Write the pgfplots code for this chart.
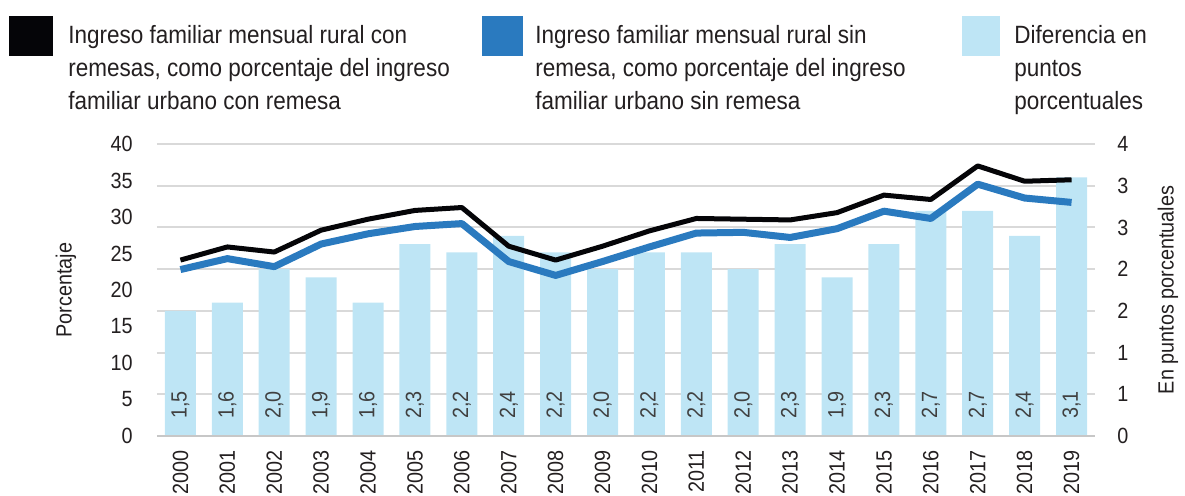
\documentclass[border=0pt]{standalone}
\usepackage{fontspec}
\setmainfont{Liberation Sans}[FakeStretch=0.9]
\usepackage{pgfplots}
\usepackage{pgfplotstable}
\pgfplotsset{compat=1.18}

\definecolor{lineblack}{HTML}{050508}
\definecolor{lineblue}{HTML}{2A7ABF}
\definecolor{barblue}{HTML}{BEE5F5}
\definecolor{gridgray}{HTML}{D9D9D9}
\definecolor{txt}{HTML}{231F20}

% x: position, d: difference (pp), con / sin: rural as % of urban income
\pgfplotstableread{
x  year d   con  sin
0  2000 1.5 24.1 22.8
1  2001 1.6 25.9 24.3
2  2002 2.0 25.2 23.2
3  2003 1.9 28.2 26.3
4  2004 1.6 29.7 27.7
5  2005 2.3 30.9 28.7
6  2006 2.2 31.3 29.1
7  2007 2.4 26.0 23.9
8  2008 2.2 24.1 22.0
9  2009 2.0 26.0 23.9
10 2010 2.2 28.1 25.9
11 2011 2.2 29.8 27.8
12 2012 2.0 29.7 27.9
13 2013 2.3 29.6 27.2
14 2014 1.9 30.6 28.4
15 2015 2.3 33.0 30.8
16 2016 2.7 32.4 29.8
17 2017 2.7 37.0 34.5
18 2018 2.4 34.9 32.6
19 2019 3.1 35.1 32.0
}\data

\begin{document}
\begin{tikzpicture}[font=\fontsize{11}{13}\selectfont, text=txt]
\pgfplotsset{
  base/.style={
    scale only axis, width=469pt, height=146pt,
    xmin=-0.5, xmax=19.5, ymin=0,
    major tick length=0pt,
    axis line style={draw=none},
    tick label style={font=\fontsize{11}{13}\selectfont, text=txt, inner sep=0pt},
    /pgf/number format/assume math mode=true,
    clip=false,
  },
}

% bars, right axis, grid, years
\begin{axis}[base,
  ymax=3.5,
  ytick={0,0.5,...,3.5},
  yticklabels={0,1,1,2,2,3,3,4},
  ytick pos=right, yticklabel pos=right,
  yticklabel style={anchor=west},
  yticklabel shift=11pt,
  ymajorgrids, grid style={gridgray, line width=1pt},
  xtick={0,...,19},
  xticklabels={2000,2001,2002,2003,2004,2005,2006,2007,2008,2009,
               2010,2011,2012,2013,2014,2015,2016,2017,2018,2019},
  xticklabel style={rotate=90, anchor=east},
  xticklabel shift=7pt,
]
\addplot[ybar, bar width=15.5pt, fill=barblue, draw=none] table[x=x, y=d] {\data};
\addplot[draw=none, mark=none,
  point meta=\thisrow{d},
  nodes near coords={\pgfmathprintnumber[fixed, fixed zerofill, precision=1, use comma]{\pgfplotspointmeta}},
  nodes near coords style={yshift=8.5pt, rotate=90, anchor=west, inner sep=0pt,
    font=\fontsize{11}{13}\selectfont, text=black!75},
] table[x=x, y expr=0] {\data};
\draw[black!22, line width=1.3pt] (rel axis cs:0,0) -- (rel axis cs:1,0);
\end{axis}

% lines, left axis
\begin{axis}[base,
  ymax=40,
  ytick={0,5,...,40},
  ytick pos=left, yticklabel pos=left,
  yticklabel style={anchor=east},
  yticklabel shift=12pt,
  xtick=\empty,
]
\addplot[lineblue, line width=3.5pt, line join=round] table[x=x, y=sin] {\data};
\addplot[lineblack, line width=2.5pt, line join=round] table[x=x, y=con] {\data};
\end{axis}

% axis titles
\node[rotate=90] at (-45.5pt,73pt) {Porcentaje};
\node[rotate=90] at (505.5pt,73pt) {En puntos porcentuales};

% legend
\begin{scope}[every node/.style={anchor=north west, inner sep=0pt, align=left,
    font=\fontsize{12.5}{16.5}\selectfont}]
\fill[lineblack] (-74pt,190pt) rectangle (-52pt,210pt);
\node at (-44.5pt,205.5pt) {Ingreso familiar mensual rural con\\remesas, como porcentaje del ingreso\\familiar urbano con remesa};
\fill[lineblue] (162.5pt,190pt) rectangle (183pt,210pt);
\node at (189pt,205.5pt) {Ingreso familiar mensual rural sin\\remesa, como porcentaje del ingreso\\familiar urbano sin remesa};
\fill[barblue] (402.5pt,190pt) rectangle (421.5pt,210pt);
\node at (428.5pt,205.5pt) {Diferencia en\\puntos\\porcentuales};
\end{scope}

\pgfresetboundingbox
\path[use as bounding box] (-78.5pt,-29.5pt) rectangle (514pt,218pt);
\end{tikzpicture}
\end{document}
